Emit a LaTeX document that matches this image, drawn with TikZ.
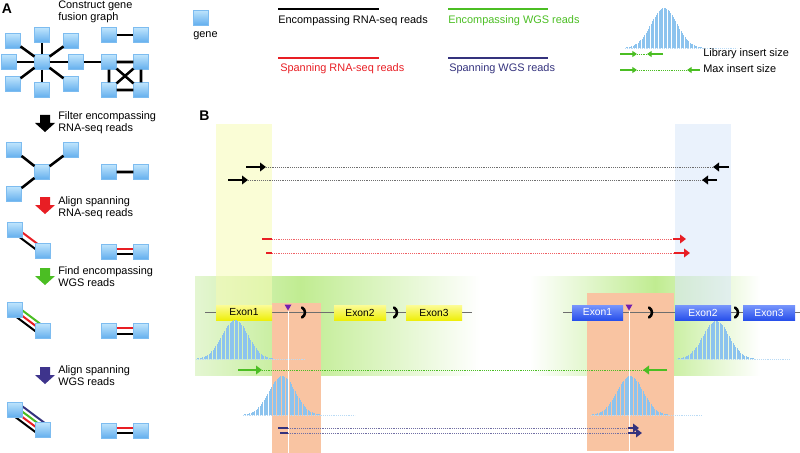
\documentclass[tikz,border=0pt]{standalone}
\usepackage{fontspec}
\setmainfont{Liberation Sans}
\usetikzlibrary{arrows.meta,calc,backgrounds}
\definecolor{genetop}{RGB}{190,228,252}
\definecolor{genebot}{RGB}{100,175,238}
\definecolor{geneln}{RGB}{125,188,240}
\definecolor{rdc}{RGB}{232,30,36}
\definecolor{grc}{RGB}{75,190,35}
\definecolor{nvc}{RGB}{52,50,125}
\definecolor{arrpur}{RGB}{62,52,140}
\definecolor{bandg}{RGB}{192,236,145}
\definecolor{bandl}{RGB}{228,246,210}
\definecolor{colY}{RGB}{246,251,180}
\definecolor{colB}{RGB}{217,231,250}
\definecolor{orng}{RGB}{249,196,162}
\definecolor{exYt}{RGB}{252,252,150}
\definecolor{exYb}{RGB}{238,238,10}
\definecolor{exBt}{RGB}{120,150,252}
\definecolor{exBb}{RGB}{40,80,235}
\definecolor{histc}{RGB}{140,195,238}
\definecolor{tric}{RGB}{115,30,175}
\definecolor{gline}{RGB}{110,110,110}
\newcommand\pline[4]{\draw[#1] ($(#2)!#4!90:(#3)$) -- ($(#3)!#4!-90:(#2)$);}
\newcommand\histo[4]{\foreach \hv in {-3,-2.9,...,3.01}{\draw[histl] ({#1+(\hv)*#4},#2) -- ({#1+(\hv)*#4},{#2-#3*exp(-0.5*(\hv)*(\hv))});}}
\tikzset{
  gene/.style={rectangle, inner sep=0pt, minimum size=11pt, draw=geneln, line width=0.3pt, top color=genetop, bottom color=genebot},
  edg/.style={line width=1.9pt, black},
  dbl/.style={line width=1.5pt},
  lbl/.style={anchor=base west, inner sep=0pt},
  panel/.style={anchor=base west, inner sep=0pt, font=\fontsize{10.5}{12}\selectfont\bfseries},
  exony/.style={rectangle, inner sep=0pt, minimum height=11.25pt, top color=exYt, bottom color=exYb, font=\fontsize{7.7}{8}\selectfont},
  exonb/.style={rectangle, inner sep=0pt, minimum height=11.25pt, top color=exBt, bottom color=exBb, text=white, font=\fontsize{7.7}{8}\selectfont},
  readarr/.style={line width=1.7pt, -{Triangle[length=4.5pt,width=6.5pt]}},
  readseg/.style={line width=1.7pt},
  readdot/.style={line width=0.4pt, densely dotted},
  histl/.style={histc, line width=0.42pt},
  histbase/.style={histc!60, line width=0.4pt, densely dotted},
  chev/.style={line width=1.9pt, line cap=round},
  legarr/.style={grc, line width=1.1pt, -{Triangle[length=3.5pt,width=4.5pt]}},
  geneline/.style={gline, line width=1.1pt},
  downarr/.pic={\fill[#1] (-5,0) -- (5,0) -- (5,8) -- (10,8) -- (0,17) -- (-10,8) -- (-5,8) -- cycle;}
}
\begin{document}
\begin{tikzpicture}[x=0.75pt,y=-0.75pt,font=\fontsize{8.2}{9.6}\selectfont]
\useasboundingbox (0,0) rectangle (800,453);
\node[panel] (labA) at (1.5,14) {A};
\node[panel] (labB) at (199,120) {B};
% ---------------- Panel A ----------------
\node[lbl] (t1a) at (58,8.5) {Construct gene};
\node[lbl] (t1b) at (58,20.5) {fusion graph};
\node[gene] (c) at (42,62) {};
\node[gene] (n1) at (42,35) {};
\node[gene] (n2) at (71,41) {};
\node[gene] (n3) at (76,62) {};
\node[gene] (n4) at (71,84) {};
\node[gene] (n5) at (42,90) {};
\node[gene] (n6) at (13,84) {};
\node[gene] (n7) at (9,62) {};
\node[gene] (n8) at (13,41) {};
\node[gene] (p1) at (109,35) {};
\node[gene] (p2) at (141,35) {};
\node[gene] (q1) at (109,62) {};
\node[gene] (q2) at (141,62) {};
\node[gene] (q3) at (109,90) {};
\node[gene] (q4) at (141,90) {};
\foreach \t in {n1,n2,n3,n4,n5,n6,n7,n8} \draw[edg] (c) -- (\t);
\draw[edg] (n3) -- (q1);
\draw[edg] (p1) -- (p2);
\draw[edg] (q1) -- (q2) (q1) -- (q3) (q2) -- (q4) (q3) -- (q4) (q1) -- (q4) (q2) -- (q3);
\pic at (45,115) {downarr=black};
\node[lbl] (t2a) at (58,119.5) {Filter encompassing};
\node[lbl] (t2b) at (58,132) {RNA-seq reads};
\node[gene] (f1) at (14,150) {};
\node[gene] (f2) at (71,150) {};
\node[gene] (f3) at (42,172) {};
\node[gene] (f4) at (14,194) {};
\node[gene] (g1) at (109,172) {};
\node[gene] (g2) at (141,172) {};
\draw[edg] (f3) -- (f1) (f3) -- (f2) (f3) -- (f4) (g1) -- (g2);
\pic at (45,197) {downarr=rdc};
\node[lbl] (t3a) at (58,204) {Align spanning};
\node[lbl] (t3b) at (58,216.5) {RNA-seq reads};
\node[gene] (h1) at (14.5,230) {};
\node[gene] (h2) at (42.5,251) {};
\node[gene] (k1) at (109,251.5) {};
\node[gene] (k2) at (141,251.5) {};
\pic at (45,268) {downarr=grc};
\node[lbl] (t4a) at (58,274) {Find encompassing};
\node[lbl] (t4b) at (58,286.5) {WGS reads};
\node[gene] (h3) at (14.5,310) {};
\node[gene] (h4) at (42.5,331) {};
\node[gene] (k3) at (109,331) {};
\node[gene] (k4) at (141,331) {};
\pic at (45,367) {downarr=arrpur};
\node[lbl] (t5a) at (58,373) {Align spanning};
\node[lbl] (t5b) at (58,385.5) {WGS reads};
\node[gene] (h5) at (15,409.5) {};
\node[gene] (h6) at (42.5,430) {};
\node[gene] (k5) at (109,430.5) {};
\node[gene] (k6) at (141,430.5) {};
\begin{scope}[on background layer]
  \pline{dbl,rdc}{h1}{h2}{2pt}
  \pline{dbl,black}{h2}{h1}{2pt}
  \pline{dbl,rdc}{k1}{k2}{1.9pt}
  \pline{dbl,black}{k2}{k1}{1.9pt}
  \pline{dbl,grc}{h3}{h4}{3.3pt}
  \pline{dbl,rdc}{h3}{h4}{0pt}
  \pline{dbl,black}{h4}{h3}{3.3pt}
  \pline{dbl,rdc}{k3}{k4}{1.9pt}
  \pline{dbl,black}{k4}{k3}{1.9pt}
  \pline{dbl,nvc}{h5}{h6}{5.2pt}
  \pline{dbl,grc}{h5}{h6}{2pt}
  \pline{dbl,rdc}{h6}{h5}{1.2pt}
  \pline{dbl,black}{h6}{h5}{4.4pt}
  \pline{dbl,rdc}{k5}{k6}{1.9pt}
  \pline{dbl,black}{k6}{k5}{1.9pt}
\end{scope}
% ---------------- Legend ----------------
\node[gene] (lg) at (200.8,17.5) {};
\node[lbl] (lgt) at (193,38) {gene};
\coordinate (l1a) at (278,9); \coordinate (l1b) at (379,9);
\draw[black,line width=1.5pt] (l1a) -- (l1b);
\node[lbl] (l1t) at (278,24) {Encompassing RNA-seq reads};
\coordinate (l2a) at (278,58); \coordinate (l2b) at (379,58);
\draw[rdc,line width=1.5pt] (l2a) -- (l2b);
\node[lbl,text=rdc] (l2t) at (280,71.5) {Spanning RNA-seq reads};
\coordinate (l3a) at (448,9); \coordinate (l3b) at (548,9);
\draw[grc,line width=1.5pt] (l3a) -- (l3b);
\node[lbl,text=grc] (l3t) at (448,24) {Encompassing WGS reads};
\coordinate (l4a) at (448,58); \coordinate (l4b) at (548,58);
\draw[nvc,line width=1.5pt] (l4a) -- (l4b);
\node[lbl,text=nvc] (l4t) at (449,71.5) {Spanning WGS reads};
\histo{664}{48}{40}{13}
\draw[histbase] (625,48) -- (737,48);
\coordinate (la1) at (620,54); \coordinate (la2) at (637,54);
\coordinate (la3) at (647,54); \coordinate (la4) at (663,54);
\draw[legarr] (la1) -- (la2);
\draw[grc,readdot] (la2) -- (la3);
\draw[legarr] (la4) -- (la3);
\node[lbl] (lit) at (703,57) {Library insert size};
\coordinate (lm1) at (620,70); \coordinate (lm2) at (637,70);
\coordinate (lm3) at (687,70); \coordinate (lm4) at (700,70);
\draw[legarr] (lm1) -- (lm2);
\draw[grc,readdot] (lm2) -- (lm3);
\draw[legarr] (lm4) -- (lm3);
\node[lbl] (mit) at (703,73) {Max insert size};
% ---------------- Panel B ----------------
\shade[left color=bandl, right color=bandg] (195,276) rectangle (300.5,375);
\shade[left color=bandg, right color=white] (300,276) rectangle (480,375);
\shade[left color=white, right color=bandg] (530,276) rectangle (655.5,375);
\shade[left color=bandg, right color=white] (655,276) rectangle (760,375);
\fill[colY, opacity=0.55] (216,124) rectangle (272,306);
\fill[colB, opacity=0.55] (675,124) rectangle (731,306);
\fill[orng] (272,303) rectangle (321,453);
\fill[orng] (587,293) rectangle (674,451);
% gene structures
\coordinate (gLs) at (205,312.5); \coordinate (gLe) at (472,312.5);
\coordinate (gRs) at (563,312.5); \coordinate (gRe) at (800,312.5);
\draw[geneline] (gLs) -- (gLe);
\draw[geneline] (gRs) -- (gRe);
\node[exony, minimum width=42pt] (eL1) at (244,312.5) {Exon1};
\node[exony, minimum width=39pt] (eL2) at (360,312.5) {Exon2};
\node[exony, minimum width=42pt] (eL3) at (434,312.5) {Exon3};
\node[exonb, minimum width=38.25pt] (eR1) at (597.5,312.5) {Exon1};
\node[exonb, minimum width=42pt] (eR2) at (703,312.5) {Exon2};
\node[exonb, minimum width=39pt] (eR3) at (769,312.5) {Exon3};
\foreach \cx in {302,394,649,735}
  \draw[chev] (\cx,307.5) .. controls (\cx+4,310) and (\cx+4,315) .. (\cx,317.5);
\fill[tric] (284.5,304.5) -- (291.5,304.5) -- (288,310.5) -- cycle;
\fill[tric] (625.5,304.5) -- (632.5,304.5) -- (629,310.5) -- cycle;
% insert size distributions
\histo{235}{359}{39}{13}
\draw[histbase] (196,359) -- (305,359);
\histo{716}{359}{38}{13}
\draw[histbase] (677,359) -- (790,359);
\histo{282}{415}{39}{13}
\draw[histbase] (243,415) -- (355,415);
\histo{630}{415}{39}{13}
\draw[histbase] (591,415) -- (702,415);
\draw[white, line width=0.6pt] (288,311) -- (288,453);
\draw[white, line width=0.6pt] (629,311) -- (629,451);
% encompassing RNA-seq reads
\coordinate (b1a) at (246,167); \coordinate (b1b) at (266,167);
\coordinate (b1c) at (713,167); \coordinate (b1d) at (729,167);
\draw[readarr] (b1a) -- (b1b);
\draw[gline,readdot] (b1b) -- (b1c);
\draw[readarr] (b1d) -- (b1c);
\coordinate (b2a) at (228,180); \coordinate (b2b) at (248,180);
\coordinate (b2c) at (702,180); \coordinate (b2d) at (717,180);
\draw[readarr] (b2a) -- (b2b);
\draw[gline,readdot] (b2b) -- (b2c);
\draw[readarr] (b2d) -- (b2c);
% spanning RNA-seq reads
\coordinate (r1a) at (262,239); \coordinate (r1b) at (272,239);
\coordinate (r1c) at (673,239); \coordinate (r1d) at (686,239);
\draw[rdc,readseg] (r1a) -- (r1b);
\draw[rdc!70,readdot] (r1b) -- (r1c);
\draw[rdc,readarr] (r1c) -- (r1d);
\coordinate (r2a) at (266,253); \coordinate (r2b) at (272,253);
\coordinate (r2c) at (674,253); \coordinate (r2d) at (690,253);
\draw[rdc,readseg] (r2a) -- (r2b);
\draw[rdc!70,readdot] (r2b) -- (r2c);
\draw[rdc,readarr] (r2c) -- (r2d);
% encompassing WGS read
\coordinate (w1a) at (238,370); \coordinate (w1b) at (262,370);
\coordinate (w1c) at (643,370); \coordinate (w1d) at (667,370);
\draw[grc,readarr] (w1a) -- (w1b);
\draw[grc,readdot] (w1b) -- (w1c);
\draw[grc,readarr] (w1d) -- (w1c);
% spanning WGS reads
\coordinate (s1a) at (278,428); \coordinate (s1b) at (288,428);
\coordinate (s1c) at (628,428); \coordinate (s1d) at (639,428);
\draw[nvc,readseg] (s1a) -- (s1b);
\draw[nvc!70,readdot] (s1b) -- (s1c);
\draw[nvc,readarr] (s1c) -- (s1d);
\coordinate (s2a) at (280,433); \coordinate (s2b) at (288,433);
\coordinate (s2c) at (628,433); \coordinate (s2d) at (642,433);
\draw[nvc,readseg] (s2a) -- (s2b);
\draw[nvc!70,readdot] (s2b) -- (s2c);
\draw[nvc,readarr] (s2c) -- (s2d);
\end{tikzpicture}
\end{document}
